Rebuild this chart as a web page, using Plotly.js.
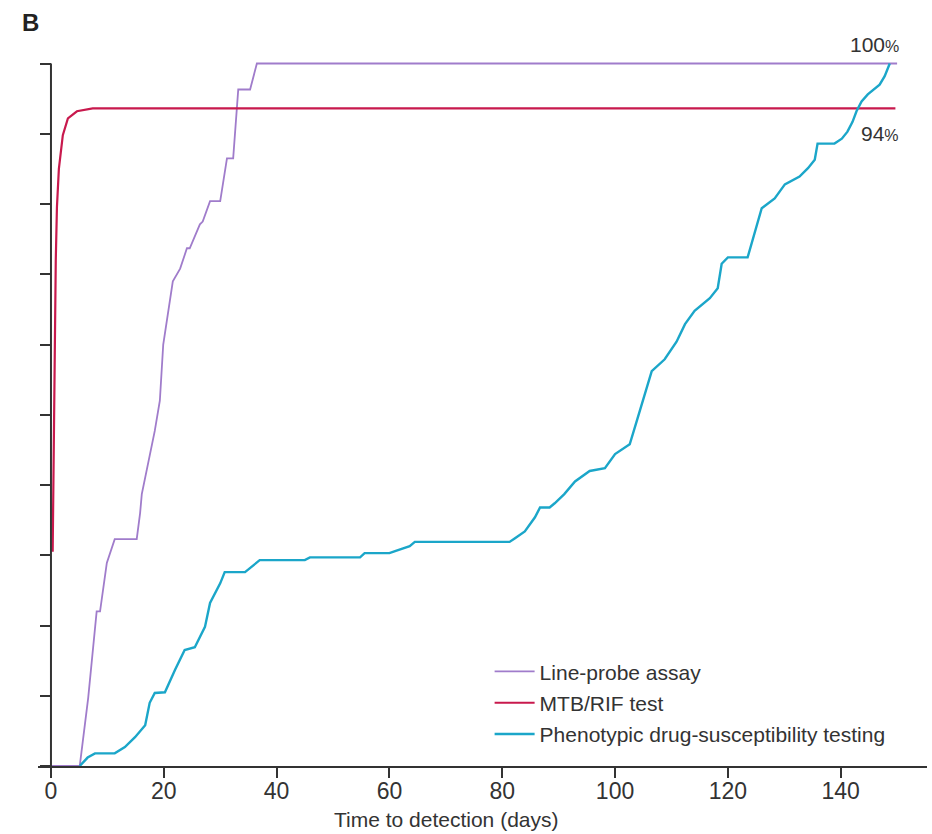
<!DOCTYPE html>
<html>
<head>
<meta charset="utf-8">
<script src="https://cdn.plot.ly/plotly-3.0.1.min.js"></script>
<style>html,body{margin:0;padding:0;background:#fff;}#chart{width:932px;height:834px;}</style>
</head>
<body>
<div id="chart"></div>
<script>
// Line-probe assay
var lpaDays = [0, 5.1, 6.6, 8.1, 8.7, 9.9, 11.3, 15.2, 15.8, 16.1, 18.4, 19.3, 19.9, 21.6, 22.9, 24.1, 24.6, 26.4, 26.9, 28.2, 30.0, 31.2, 32.3, 33.2, 35.3, 36.5, 150];
var lpaPct  = [0, 0, 9.7, 22, 22, 28.9, 32.3, 32.3, 36, 38.7, 47.7, 52, 60, 69, 70.8, 73.7, 73.7, 77.1, 77.5, 80.4, 80.4, 86.5, 86.5, 96.3, 96.3, 100, 100];
// MTB/RIF test
var mtbDays = [0.3, 0.5, 0.7, 0.85, 1.06, 1.4, 2.1, 3.0, 4.6, 7.4, 149.7];
var mtbPct  = [30.5, 50, 65, 72, 79.6, 85, 89.8, 92.2, 93.2, 93.6, 93.6];
// Phenotypic drug-susceptibility testing
var dstDays = [5.1, 6.5, 7.8, 11.3, 13.1, 14.9, 16.7, 17.5, 18.4, 20.2, 22.0, 23.7, 25.5, 27.3, 28.2, 30.0, 30.8, 34.4, 37.0, 45.0, 45.9, 54.8, 55.6, 60.0, 61.0, 63.6, 64.5, 81.3, 82.2, 84.0, 85.8, 86.7, 88.4, 89.3, 91.0, 92.9, 95.5, 98.2, 100.0, 102.6, 103.8, 105.3, 106.5, 108.8, 110.9, 112.4, 114.1, 116.8, 118.2, 118.9, 120.0, 123.5, 124.8, 126.0, 128.3, 130.1, 132.7, 134.2, 135.4, 135.9, 138.9, 140.2, 141.2, 142.1, 142.8, 143.7, 144.8, 146.9, 147.8, 148.7];
var dstPct  = [0, 1.2, 1.8, 1.8, 2.7, 4.1, 5.8, 9.0, 10.4, 10.5, 13.7, 16.5, 16.9, 19.8, 23.2, 26.0, 27.6, 27.6, 29.3, 29.3, 29.7, 29.7, 30.3, 30.3, 30.6, 31.3, 31.9, 31.9, 32.4, 33.4, 35.4, 36.8, 36.8, 37.4, 38.7, 40.5, 42.0, 42.4, 44.4, 45.8, 49.0, 52.9, 56.2, 57.9, 60.4, 62.9, 64.8, 66.6, 68.0, 71.5, 72.4, 72.4, 76.1, 79.4, 80.8, 82.8, 83.9, 85.1, 86.3, 88.6, 88.6, 89.3, 90.3, 91.7, 93.2, 94.6, 95.6, 97.0, 98.2, 100];

var seriesNames = ['Line-probe assay', 'MTB/RIF test', 'Phenotypic drug-susceptibility testing'];
var xTicks = [0, 20, 40, 60, 80, 100, 120, 140];
var yTicks = [0, 10, 20, 30, 40, 50, 60, 70, 80, 90, 100];
var endLabels = ['100%', '94%'];

var FONT = '"Liberation Sans Narrow", "Liberation Sans", Arial, sans-serif';
var TXT = '#333333';
var xMin = -2.3, xMax = 155.3;

var traces = [
  {x: lpaDays, y: lpaPct, name: seriesNames[0], mode: 'lines', legendgroup: 'a',
   line: {color: '#a07ccb', width: 1.8}},
  {x: mtbDays, y: mtbPct, name: seriesNames[1], mode: 'lines', legendgroup: 'b',
   line: {color: '#c8194d', width: 2.2}},
  {x: dstDays, y: dstPct, name: seriesNames[2], mode: 'lines', legendgroup: 'c',
   line: {color: '#1ba6c9', width: 2.4}}
];

function pct(t){ return t.replace('%', '<span style="font-size:16px">%</span>'); }

var layout = {
  width: 932, height: 834,
  margin: {l: 38, r: 5, t: 60, b: 68},
  paper_bgcolor: '#fff', plot_bgcolor: '#fff',
  font: {family: FONT, color: TXT, size: 22},
  showlegend: true,
  legend: {x: 0.508, y: 0.1625, xanchor: 'left', yanchor: 'top', bgcolor: 'rgba(0,0,0,0)',
           font: {family: FONT, size: 21, color: TXT}, tracegroupgap: 1, itemwidth: 40},
  xaxis: {range: [xMin, xMax], tickvals: xTicks, ticktext: xTicks.map(String),
          showline: true, linecolor: TXT, linewidth: 2, ticks: 'outside', ticklen: 10,
          tickwidth: 2, tickcolor: TXT, showgrid: false, zeroline: false,
          ticklabelstandoff: -7,
          tickfont: {family: FONT, size: 23, color: TXT}},
  yaxis: {range: [0, 100.5], tickvals: yTicks, showticklabels: false, anchor: 'free',
          position: (0 - xMin) / (xMax - xMin),
          showline: false, ticks: 'outside', ticklen: 11, tickwidth: 2, tickcolor: TXT,
          showgrid: false, zeroline: false},
  shapes: [
    {type: 'line', xref: 'x', yref: 'y', x0: 0, x1: 0, y0: 0, y1: 100,
     line: {color: TXT, width: 2}, layer: 'above'}
  ],
  annotations: [
    {text: '<b>B</b>', xref: 'paper', yref: 'paper', x: (20 - 38) / 889, y: (766 - 23) / 706,
     xanchor: 'left', yanchor: 'middle', showarrow: false, font: {family: '"Liberation Sans", Arial, sans-serif', size: 24, color: '#222'}},
    {text: pct(endLabels[0]), xref: 'paper', yref: 'paper', x: (901 - 38) / 889, y: (766 - 45) / 706,
     xanchor: 'right', yanchor: 'middle', showarrow: false, font: {family: FONT, size: 21, color: TXT}},
    {text: pct(endLabels[1]), xref: 'paper', yref: 'paper', x: (901 - 38) / 889, y: (766 - 133) / 706,
     xanchor: 'right', yanchor: 'middle', showarrow: false, font: {family: FONT, size: 21, color: TXT}},
    {text: 'Time to detection (days)', xref: 'paper', yref: 'paper', x: (446 - 38) / 889, y: (766 - 819) / 706,
     xanchor: 'center', yanchor: 'middle', showarrow: false, font: {family: FONT, size: 21, color: TXT}}
  ]
};

Plotly.newPlot('chart', traces, layout, {displayModeBar: false, staticPlot: true});
</script>
</body>
</html>
